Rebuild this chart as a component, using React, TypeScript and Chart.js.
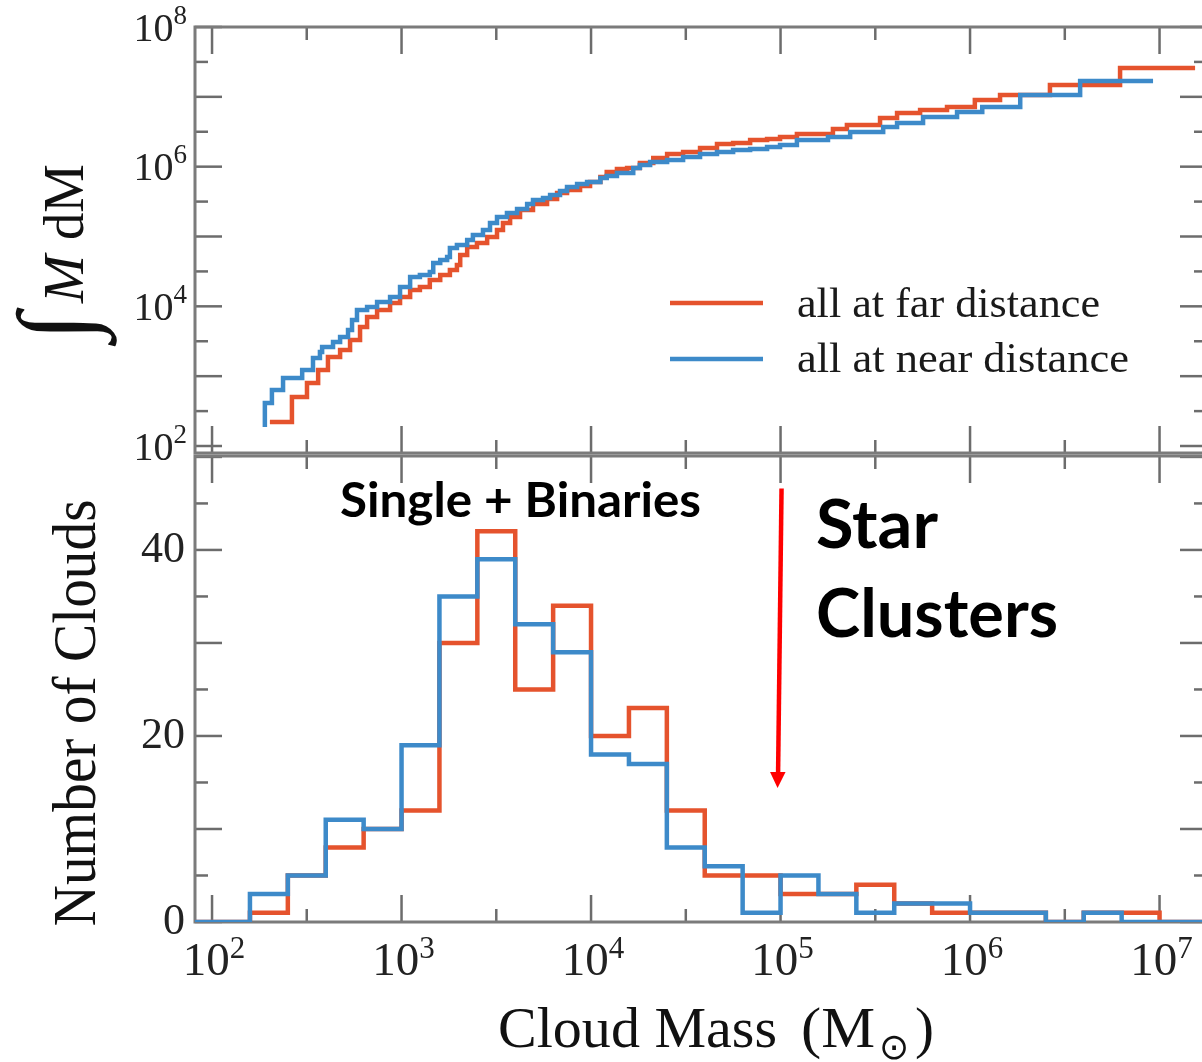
import React, { useEffect, useRef } from 'react';
import { Chart, registerables } from 'chart.js';

Chart.register(...registerables);

const SERIF = '"Liberation Serif", "Times New Roman", Times, serif';
const SANS = 'Lato, "Open Sans", "Noto Sans", sans-serif';

// ---------- Top panel: cumulative cloud mass (step curves) ----------
const farCumMass = [202, 264, 317, 363, 409, 474, 535, 604, 658, 743, 870, 982, 1110, 1250, 1410, 1600, 1800, 1960, 2040, 2220, 2500, 2830, 3190, 3430, 3740, 4220, 4940, 5860, 6620, 7470, 8750, 9880, 11200, 12100, 13700, 15500, 18100, 21300, 25200, 30600, 37600, 46200, 56200, 69100, 84900, 99400, 122000, 189000, 224000, 335000, 412000, 545000, 756000, 1060000, 1440000, 2640000, 6190000, 15400000];
const farCumTotal = [221, 503, 798, 1230, 1880, 2370, 3300, 5060, 7040, 8860, 11200, 13600, 17100, 18900, 23800, 28100, 33200, 39100, 54400, 70800, 80800, 98400, 124000, 156000, 190000, 240000, 292000, 344000, 420000, 463000, 529000, 604000, 712000, 839000, 926000, 957000, 1130000, 1330000, 1520000, 1620000, 1850000, 2110000, 2180000, 2410000, 2490000, 2660000, 2940000, 3470000, 3950000, 4980000, 5870000, 6480000, 7160000, 9020000, 10600000, 14800000, 25900000, 25900000];

const nearCumMass = [190, 190, 207, 237, 299, 341, 371, 381, 435, 474, 522, 548, 582, 658, 743, 870, 982, 1110, 1250, 1410, 1470, 1600, 1740, 1800, 1960, 2220, 2380, 2690, 2930, 3190, 3600, 4070, 4600, 4940, 5580, 6080, 6860, 7470, 8440, 9530, 11200, 12100, 13700, 16700, 18100, 20500, 25200, 30600, 37600, 46200, 56200, 69100, 84900, 99400, 122000, 178000, 233000, 348000, 412000, 565000, 854000, 1160000, 1840000, 3810000, 9240000];
const nearCumTotal = [187, 413, 634, 942, 1230, 1820, 2220, 2620, 3090, 3640, 4580, 6370, 8860, 9790, 11500, 13600, 18900, 26300, 28100, 31000, 41800, 46100, 50900, 68500, 75600, 89100, 105000, 124000, 156000, 190000, 217000, 248000, 292000, 333000, 356000, 393000, 449000, 512000, 565000, 604000, 689000, 736000, 812000, 957000, 1060000, 1170000, 1250000, 1380000, 1520000, 1620000, 1730000, 1790000, 1910000, 2050000, 2410000, 2660000, 3140000, 3700000, 4220000, 5150000, 6070000, 7160000, 10600000, 16900000, 16900000];

// ---------- Bottom panel: histogram with 0.2-dex bins ----------
const binEdgesLog10 = [1.8, 2.0, 2.2, 2.4, 2.6, 2.8, 3.0, 3.2, 3.4, 3.6, 3.8, 4.0, 4.2, 4.4, 4.6, 4.8, 5.0, 5.2, 5.4, 5.6, 5.8, 6.0, 6.2, 6.4, 6.6, 6.8, 7.0, 7.2, 7.4];
const farCounts = [0, 0, 1, 5, 8, 10, 12, 30, 42, 25, 34, 20, 23, 12, 5, 5, 3, 3, 4, 2, 1, 1, 1, 0, 1, 1, 0, 0];
const nearCounts = [0, 0, 3, 5, 11, 10, 19, 35, 39, 32, 29, 18, 17, 8, 6, 1, 5, 3, 1, 2, 2, 1, 1, 0, 1, 0, 0, 0];

// ---------- Axes ----------
const X_MIN = 81.3;
const X_MAX = 1.78e7;
const TOP_Y_MIN = 79.4;
const TOP_Y_MAX = 1e8;
const BOT_Y_MAX = 50.1;
const xMajorTicks = [1e2, 1e3, 1e4, 1e5, 1e6, 1e7];
const xMinorTicks = [316, 3162, 31623, 316228, 3162278];
const xLabelExponents = [2, 3, 4, 5, 6, 7];
const topYMajorTicks = [1e2, 1e3, 1e4, 1e5, 1e6, 1e7, 1e8];
const topYMinorTicks = [316, 3162, 31623, 316228, 3162278, 31622777];
const topYLabelExponents = [2, 4, 6, 8];
const bottomYMajorTicks = [0, 10, 20, 30, 40, 50];
const bottomYMinorTicks = [5, 15, 25, 35, 45];
const bottomYLabels = [0, 20, 40];

const seriesLabels = ['all at far distance', 'all at near distance'];
const FAR_COLOR = '#E5532D';
const NEAR_COLOR = '#3D8AC9';

// annotation (arrow at 1e5 solar masses)
const arrowMass = 1e5;
const arrowFromCount = 46.6;
const arrowToCount = 14.4;

const BOTTOM_TOP = 400; // page offset of bottom canvas

function seg(ctx: CanvasRenderingContext2D, x1: number, y1: number, x2: number, y2: number) {
  ctx.beginPath();
  ctx.moveTo(x1, y1);
  ctx.lineTo(x2, y2);
  ctx.stroke();
}

function fitText(ctx: CanvasRenderingContext2D, text: string, x: number, y: number, font: string, width: number, align = 'left') {
  ctx.font = font;
  ctx.textAlign = 'left';
  ctx.textBaseline = 'alphabetic';
  const w = ctx.measureText(text).width;
  const s = width / w;
  ctx.save();
  ctx.translate(x, y);
  ctx.scale(s, 1);
  ctx.fillText(text, align === 'center' ? -w / 2 : 0, 0);
  ctx.restore();
}

function drawPow(ctx: CanvasRenderingContext2D, ax: number, cy: number, exp: number, size: number, sup: number, raise: number, align: string) {
  ctx.textAlign = 'left';
  ctx.textBaseline = 'alphabetic';
  ctx.font = `${size}px ${SERIF}`;
  const w1 = ctx.measureText('10').width;
  ctx.font = `${sup}px ${SERIF}`;
  const w2 = ctx.measureText(String(exp)).width;
  const total = w1 + w2;
  const x0 = align === 'right' ? ax - total : ax - total / 2;
  const base = cy + size * 0.34;
  ctx.font = `${size}px ${SERIF}`;
  ctx.fillText('10', x0, base);
  ctx.font = `${sup}px ${SERIF}`;
  ctx.fillText(String(exp), x0 + w1, base - raise);
}

function drawFrame(chart: any, yMajor: number[], yMinor: number[]) {
  const { ctx, chartArea: a, scales } = chart;
  const xs = scales.x;
  const ys = scales.y;
  const LONG = 27;
  const SHORT = 13;
  ctx.save();
  ctx.lineCap = 'butt';
  ctx.strokeStyle = '#6c6c6c';
  ctx.lineWidth = 2.5;
  xMajorTicks.forEach((v) => {
    const p = xs.getPixelForValue(v);
    seg(ctx, p, a.top, p, a.top + LONG);
    seg(ctx, p, a.bottom, p, a.bottom - LONG);
  });
  xMinorTicks.forEach((v) => {
    const p = xs.getPixelForValue(v);
    seg(ctx, p, a.top, p, a.top + SHORT);
    seg(ctx, p, a.bottom, p, a.bottom - SHORT);
  });
  yMajor.forEach((v) => {
    const p = ys.getPixelForValue(v);
    seg(ctx, a.left, p, a.left + LONG, p);
    seg(ctx, a.right, p, a.right - LONG, p);
  });
  yMinor.forEach((v) => {
    const p = ys.getPixelForValue(v);
    seg(ctx, a.left, p, a.left + SHORT, p);
    seg(ctx, a.right, p, a.right - SHORT, p);
  });
  ctx.strokeStyle = '#7b7b7b';
  ctx.lineWidth = 3;
  ctx.strokeRect(a.left, a.top, a.right - a.left, a.bottom - a.top);
  ctx.restore();
}

const topPlugin = {
  id: 'topDecor',
  beforeDatasetsDraw(chart: any) {
    drawFrame(chart, topYMajorTicks, topYMinorTicks);
  },
  afterDraw(chart: any) {
    const { ctx, scales } = chart;
    ctx.save();
    ctx.fillStyle = '#222';
    topYLabelExponents.forEach((e) => {
      drawPow(ctx, 187, scales.y.getPixelForValue(10 ** e), e, 40, 27, 17, 'right');
    });

    // y title: ∫ M dM (rotated)
    ctx.save();
    ctx.translate(83, 350);
    ctx.rotate(-Math.PI / 2);
    ctx.fillStyle = '#111';
    ctx.textAlign = 'left';
    ctx.textBaseline = 'alphabetic';
    ctx.font = `100px ${SERIF}`;
    let m = ctx.measureText('∫');
    const k = 102 / Math.max(1, m.actualBoundingBoxAscent + m.actualBoundingBoxDescent);
    ctx.font = `${100 * k}px ${SERIF}`;
    m = ctx.measureText('∫');
    ctx.fillText('∫', 3 + m.actualBoundingBoxLeft, -68 + m.actualBoundingBoxAscent);
    fitText(ctx, 'M', 47, 0, `italic 57px ${SERIF}`, 48);
    fitText(ctx, 'dM', 110, 0, `57px ${SERIF}`, 76);
    ctx.restore();

    // legend
    ctx.lineWidth = 4.5;
    ctx.strokeStyle = FAR_COLOR;
    seg(ctx, 670, 303, 763, 303);
    ctx.strokeStyle = NEAR_COLOR;
    seg(ctx, 670, 359, 763, 359);
    ctx.fillStyle = '#1a1a1a';
    fitText(ctx, seriesLabels[0], 797, 317, `42px ${SERIF}`, 303);
    fitText(ctx, seriesLabels[1], 797, 372, `42px ${SERIF}`, 332);
    ctx.restore();
  },
};

const bottomPlugin = {
  id: 'bottomDecor',
  beforeDatasetsDraw(chart: any) {
    drawFrame(chart, bottomYMajorTicks, bottomYMinorTicks);
  },
  afterDraw(chart: any) {
    const { ctx, scales, chartArea: a } = chart;
    const xs = scales.x;
    const ys = scales.y;
    const P = (y: number) => y - BOTTOM_TOP;
    ctx.save();
    ctx.fillStyle = '#222';
    xLabelExponents.forEach((e) => {
      drawPow(ctx, xs.getPixelForValue(10 ** e) + 2, a.bottom + 37, e, 47, 31, 17, 'center');
    });

    // y title
    ctx.save();
    ctx.translate(95, P(713));
    ctx.rotate(-Math.PI / 2);
    ctx.fillStyle = '#111';
    fitText(ctx, 'Number of Clouds', 0, 0, `62px ${SERIF}`, 427, 'center');
    ctx.restore();

    // x title
    ctx.fillStyle = '#111';
    fitText(ctx, 'Cloud Mass', 498, P(1047), `58px ${SERIF}`, 279);
    fitText(ctx, '(M', 801, P(1047), `58px ${SERIF}`, 74);
    ctx.font = `36px "DejaVu Sans", ${SERIF}`;
    ctx.textAlign = 'center';
    ctx.textBaseline = 'middle';
    ctx.fillText('⊙', 894, P(1050));
    fitText(ctx, ')', 915, P(1047), `58px ${SERIF}`, 19);

    // annotations
    ctx.fillStyle = '#000';
    fitText(ctx, 'Single + Binaries', 340, P(517), `bold 47px ${SANS}`, 361);
    fitText(ctx, 'Star', 816, P(548), `bold 67px ${SANS}`, 122);
    fitText(ctx, 'Clusters', 816, P(637), `bold 67px ${SANS}`, 242);

    // red arrow
    const ax = xs.getPixelForValue(arrowMass);
    const yTop = ys.getPixelForValue(arrowFromCount);
    const yTip = ys.getPixelForValue(arrowToCount);
    ctx.strokeStyle = '#FF0000';
    ctx.fillStyle = '#FF0000';
    ctx.lineWidth = 4.5;
    seg(ctx, ax + 1, yTop, ax - 2.5, yTip - 12);
    ctx.beginPath();
    ctx.moveTo(ax - 3, yTip);
    ctx.lineTo(ax - 10.5, yTip - 16);
    ctx.lineTo(ax + 5, yTip - 16);
    ctx.closePath();
    ctx.fill();
    ctx.restore();
  },
};

function lineDataset(label: string, xs: number[], ys: number[], color: string, width: number, order: number) {
  return {
    label,
    data: xs.map((x, i) => ({ x, y: ys[i] })),
    borderColor: color,
    backgroundColor: color,
    borderWidth: width,
    stepped: 'before',
    pointRadius: 0,
    pointHoverRadius: 0,
    fill: false,
    tension: 0,
    borderJoinStyle: 'miter',
    borderCapStyle: 'butt',
    order,
  };
}

function histPoints(counts: number[]) {
  const xs = binEdgesLog10.map((e) => 10 ** e);
  const ys = binEdgesLog10.map((_, i) => counts[Math.min(i, counts.length - 1)]);
  return { xs, ys };
}

export default function App() {
  const topRef = useRef<HTMLCanvasElement>(null);
  const botRef = useRef<HTMLCanvasElement>(null);

  useEffect(() => {
    const common = {
      responsive: false,
      maintainAspectRatio: false,
      animation: false,
      devicePixelRatio: 1,
      events: [],
    };
    const top = new Chart(topRef.current as HTMLCanvasElement, {
      type: 'line',
      data: {
        datasets: [
          lineDataset(seriesLabels[0], farCumMass, farCumTotal, FAR_COLOR, 4.5, 2),
          lineDataset(seriesLabels[1], nearCumMass, nearCumTotal, NEAR_COLOR, 4.5, 1),
        ],
      } as any,
      options: {
        ...common,
        layout: { padding: { left: 195, top: 27, right: 3, bottom: 17 } },
        plugins: { legend: { display: false }, tooltip: { enabled: false } },
        scales: {
          x: { type: 'logarithmic', min: X_MIN, max: X_MAX, display: false },
          y: { type: 'logarithmic', min: TOP_Y_MIN, max: TOP_Y_MAX, display: false },
        },
      } as any,
      plugins: [topPlugin],
    });

    const far = histPoints(farCounts);
    const near = histPoints(nearCounts);
    const bot = new Chart(botRef.current as HTMLCanvasElement, {
      type: 'line',
      data: {
        datasets: [
          lineDataset(seriesLabels[0], far.xs, far.ys, FAR_COLOR, 4.5, 2),
          lineDataset(seriesLabels[1], near.xs, near.ys, NEAR_COLOR, 4.5, 1),
        ],
      } as any,
      options: {
        ...common,
        layout: { padding: { left: 0, top: 56, right: 3, bottom: 140 } },
        plugins: { legend: { display: false }, tooltip: { enabled: false } },
        scales: {
          x: { type: 'logarithmic', min: X_MIN, max: X_MAX, display: false },
          y: {
            type: 'linear',
            min: 0,
            max: BOT_Y_MAX,
            position: 'left',
            grid: { display: false, drawTicks: false },
            border: { display: false },
            ticks: { color: '#222', font: { family: SERIF, size: 44 }, padding: 10 },
            afterBuildTicks: (s: any) => {
              s.ticks = bottomYLabels.map((v) => ({ value: v }));
            },
            afterFit: (s: any) => {
              s.width = 195;
            },
          },
        },
      } as any,
      plugins: [bottomPlugin],
    });

    return () => {
      top.destroy();
      bot.destroy();
    };
  }, []);

  return (
    <div style={{ position: 'absolute', left: 0, top: 0, width: 1202, height: 1062, overflow: 'hidden', background: '#fff' }}>
      <canvas ref={topRef} width={1210} height={470} style={{ position: 'absolute', left: 0, top: 0 }} />
      <canvas ref={botRef} width={1210} height={662} style={{ position: 'absolute', left: 0, top: BOTTOM_TOP }} />
    </div>
  );
}
